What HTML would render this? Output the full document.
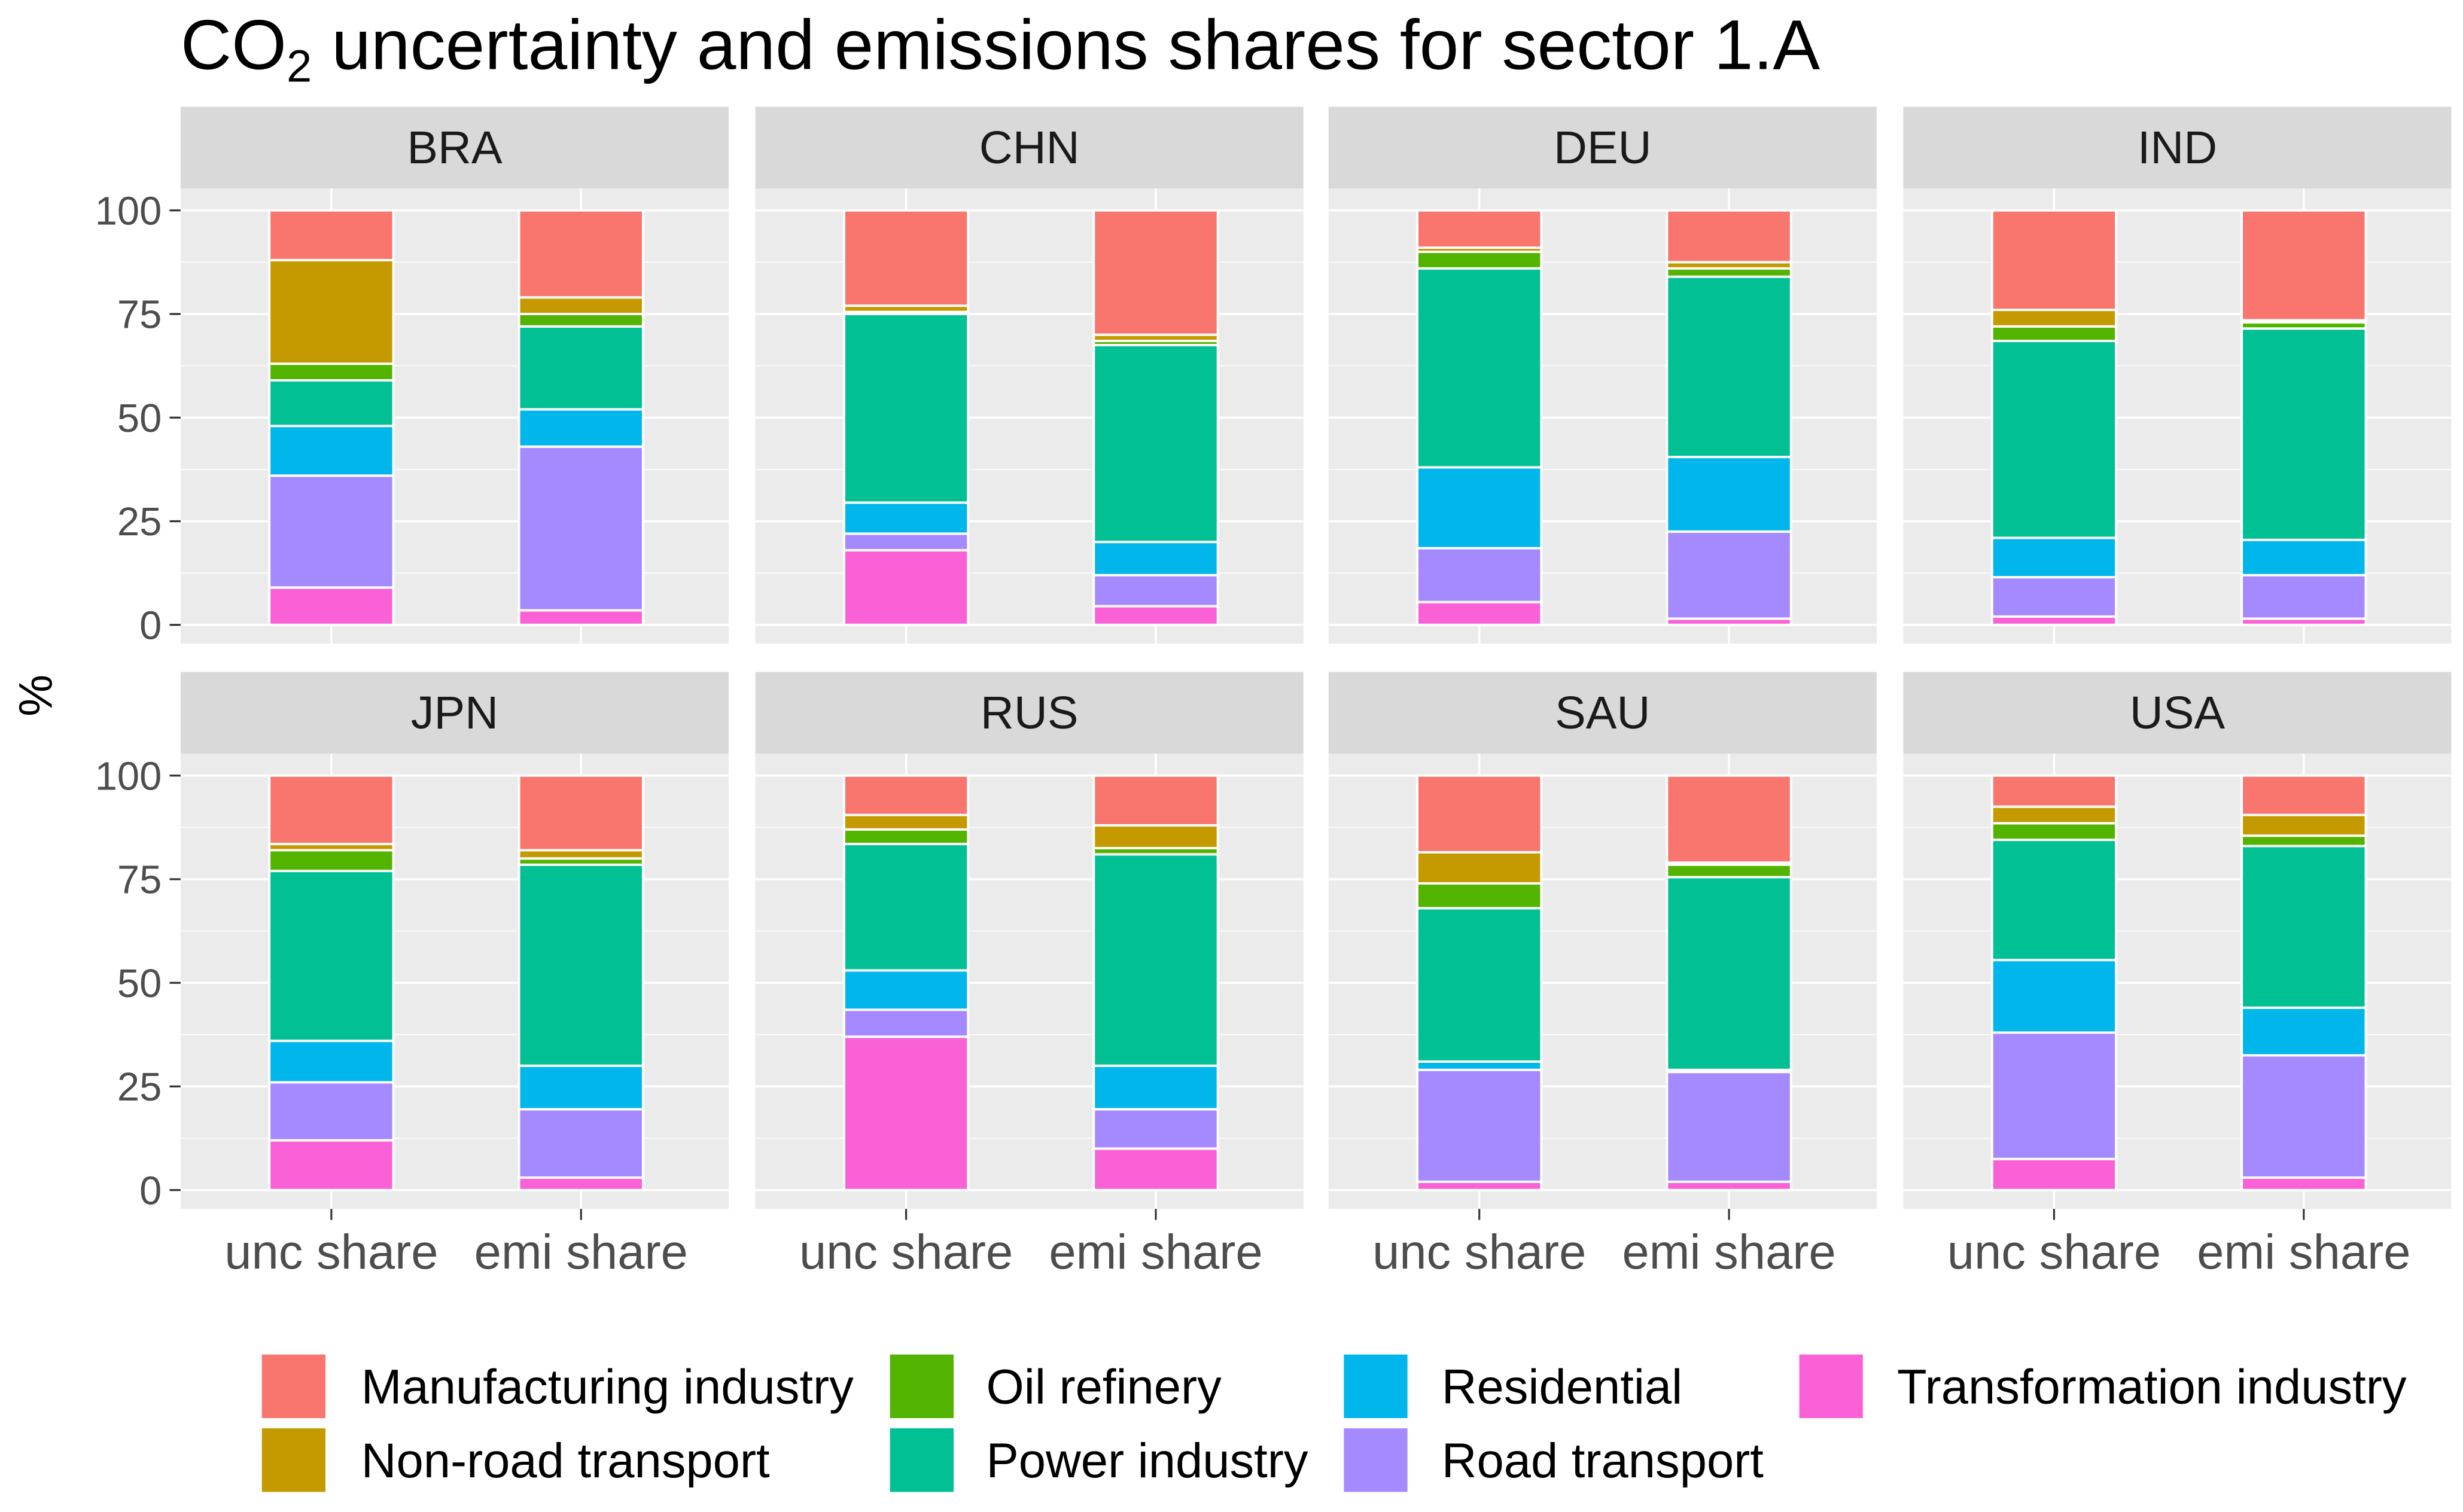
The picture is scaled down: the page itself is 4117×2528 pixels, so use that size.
<!DOCTYPE html>
<html><head><meta charset="utf-8"><style>
html,body{margin:0;padding:0;background:#fff;}
svg{display:block;font-family:"Liberation Sans",Arial,sans-serif;}
</style></head><body>
<svg id="chart" width="4117" height="2528" viewBox="0 0 1568.4 963.05" xmlns="http://www.w3.org/2000/svg">
<rect width="1568.4" height="963.05" fill="#fff"/>
<text x="115" y="44" font-size="45" fill="#000">CO<tspan font-size="29" dy="8">2</tspan><tspan dy="-8"> uncertainty and emissions shares for sector 1.A</tspan></text>
<text transform="translate(33,443) rotate(-90)" text-anchor="middle" font-size="30" fill="#000">%</text>
<g id="panels"></g>
<g id="legend"></g>
</svg>
<script>
const countries = ["BRA","CHN","DEU","IND","JPN","RUS","SAU","USA"];
const barLabels = ["unc share","emi share"];
const sectors = ["Transformation industry","Road transport","Residential","Power industry","Oil refinery","Non-road transport","Manufacturing industry"];
const colors = ["#FB61D7","#A58AFF","#00B6EB","#00C094","#53B400","#C49A00","#F8766D"];
const yTicks = [0,25,50,75,100];
const uncShares = [
 [9,27,12,11,4,25,12],
 [18,4,7.5,45.5,0.5,1.5,23],
 [5.5,13,19.5,48,4,1,9],
 [2,9.5,9.5,47.5,3.5,4,24],
 [12,14,10,41,5,1.5,16.5],
 [37,6.5,9.5,30.5,3.5,3.5,9.5],
 [2,27,2,37,6,7.5,18.5],
 [7.5,30.5,17.5,29,4,4,7.5]
];
const emiShares = [
 [3.5,39.5,9,20,3,4,21],
 [4.5,7.5,8,47.5,1,1.5,30],
 [1.5,21,18,43.5,2,1.5,12.5],
 [1.5,10.5,8.5,51,1.5,0.5,26.5],
 [3,16.5,10.5,48.5,1.5,2,18],
 [10,9.5,10.5,51,1.5,5.5,12],
 [2,26.5,0.5,46.5,3,0.5,21],
 [3,29.5,11.5,39,2.5,5,9.5]
];
const legendOrder = ["Manufacturing industry","Non-road transport","Oil refinery","Power industry","Residential","Road transport","Transformation industry"];

const NS="http://www.w3.org/2000/svg";
function mk(tag,attrs,parent){const e=document.createElementNS(NS,tag);for(const k in attrs)e.setAttribute(k,attrs[k]);parent.appendChild(e);return e;}
const panelsG=document.getElementById('panels');
const colX=[115,481,846,1212], PW=349;
const rowTop=[68,428], stripH=52, panelH=290;
function yScale(row,v){const y0=rowTop[row]+stripH+278, y100=rowTop[row]+stripH+14;return y0-(y0-y100)*v/100;}
function xScale(col,i){return colX[col]+96+i*159;}
const BW=79;
countries.forEach((c,ci)=>{
  const col=ci%4,row=Math.floor(ci/4);
  const g=mk('g',{},panelsG);
  
  
  const x0=colX[col], st=rowTop[row], pt=st+stripH;
  const strip=mk('rect',{x:x0,y:st,width:PW,height:stripH,fill:'#D9D9D9'},g);
  
  
  const st_t=mk('text',{x:x0+PW/2,y:st+stripH/2+10,'text-anchor':'middle','font-size':29.5,fill:'#1A1A1A'},g);
  st_t.textContent=c;
  
  
  mk('rect',{x:x0,y:pt,width:PW,height:panelH,fill:'#EBEBEB'},g);
  for(let k=0;k<4;k++){const y=yScale(row,12.5+25*k);mk('line',{x1:x0,x2:x0+PW,y1:y,y2:y,stroke:'#fff','stroke-width':0.6},g);}
  yTicks.forEach(t=>{const y=yScale(row,t);mk('line',{x1:x0,x2:x0+PW,y1:y,y2:y,stroke:'#fff','stroke-width':1.3},g);});
  barLabels.forEach((b,bi)=>{const x=xScale(col,bi);mk('line',{x1:x,x2:x,y1:pt,y2:pt+panelH,stroke:'#fff','stroke-width':1.3},g);});
  if(col===0){
    yTicks.forEach(t=>{const y=yScale(row,t);
      mk('line',{x1:x0-7,x2:x0,y1:y,y2:y,stroke:'#333','stroke-width':1.2},g);
      const tl=mk('text',{x:x0-12,y:y+9,'text-anchor':'end','font-size':25.5,fill:'#4D4D4D'},g);
      tl.textContent=t;
      
      
    });
  }
  [uncShares[ci],emiShares[ci]].forEach((vals,bi)=>{
    let cum=0;const xc=xScale(col,bi);
    vals.forEach((v,si)=>{
      const yt=yScale(row,cum+v), yb=yScale(row,cum);
      const r=mk('rect',{x:xc-BW/2,y:yt,width:BW,height:Math.max(0,yb-yt),fill:colors[si],stroke:'#fff','stroke-width':1.5},g);
      
      
      cum+=v;
    });
  });
  if(row===1){
    barLabels.forEach((b,bi)=>{const x=xScale(col,bi),yb=pt+panelH;
      mk('line',{x1:x,x2:x,y1:yb,y2:yb+7,stroke:'#333','stroke-width':1.2},g);
      const xl=mk('text',{x:x,y:yb+38,'text-anchor':'middle','font-size':31,fill:'#4D4D4D'},g);
      xl.textContent=b;
      
      
    });
  }
});
const lg=document.getElementById('legend');


const keyX=[166,566,855,1145], txtX=[230,628,918,1208], keyY=[862,909];
legendOrder.forEach((s,i)=>{
  const col=Math.floor(i/2), row=i%2;
  const eg=mk('g',{},lg);
  
  
  mk('rect',{x:keyX[col],y:keyY[row],width:42,height:42,fill:colors[sectors.indexOf(s)],stroke:'#fff','stroke-width':1.5},eg);
  const t=mk('text',{x:txtX[col],y:keyY[row]+32,'font-size':31,fill:'#000'},eg);
  t.textContent=s;
});
</script>
</body></html>
